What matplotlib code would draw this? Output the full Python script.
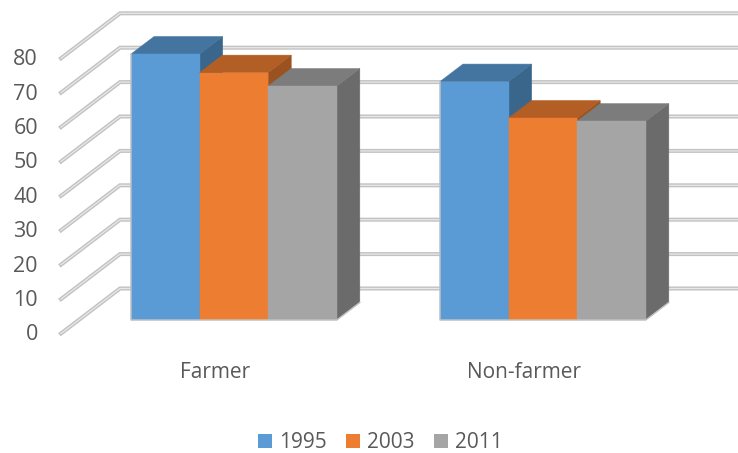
import matplotlib
matplotlib.use("Agg")
import matplotlib.pyplot as plt
from matplotlib.patches import Polygon, Patch

plt.rcParams['font.family'] = ['Open Sans', 'DejaVu Sans']

categories = ["Farmer", "Non-farmer"]
years = ["1995", "2003", "2011"]
values_1995 = [77.3, 69.3]
values_2003 = [71.9, 58.7]
values_2011 = [68.0, 57.8]
ticks = [0, 10, 20, 30, 40, 50, 60, 70, 80]

front_cols = ["#5b9bd5", "#ed7d31", "#a5a5a5"]
top_cols = ["#4475a0", "#b25e24", "#7c7c7c"]
side_cols = ["#3b668c", "#9a5220", "#6b6b6b"]
text_col = "#595959"
edge_col = "#c4c4c4"

# pixel layout of the fake 3d scene
PX_PER_UNIT = 3.44
BACK_ZERO = 288.5
FLOOR_DX, FLOOR_DY = 59, -45
BAR_BASE = 320
BAR_DX, BAR_DY = 23, -17.5
BAR_W = 68.6
GROUP_X = [131, 440]


def val_y(base, v):
    return base - v * PX_PER_UNIT


fig = plt.figure(figsize=(7.38, 4.53), dpi=100)
ax = fig.add_axes([0, 0, 1, 1])
ax.set_xlim(0, 738)
ax.set_ylim(453, 0)
ax.axis('off')

# gridlines: diagonal side wall then back wall
for t in ticks:
    yb = val_y(BACK_ZERO, t)
    xs = [61, 61 + FLOOR_DX, 738]
    ys = [yb - FLOOR_DY, yb, yb]
    ax.plot(xs, ys, color="#c2c2c2", lw=2.9, solid_joinstyle='miter', zorder=1)
    ax.plot(xs, ys, color="#e8e8e8", lw=0.9, solid_joinstyle='miter', zorder=1.1)
    ax.text(38, yb - FLOOR_DY + 1.5, str(t), ha='right', va='center', fontsize=15.5, color=text_col)

series = [values_1995, values_2003, values_2011]
for g, x0 in enumerate(GROUP_X):
    for s, vals in enumerate(series):
        x = x0 + s * BAR_W
        top = val_y(BAR_BASE, vals[g])
        # side, top, front, left to right so later bars cover earlier ones
        ax.add_patch(Polygon([(x + BAR_W, top), (x + BAR_W + BAR_DX, top + BAR_DY),
                              (x + BAR_W + BAR_DX, BAR_BASE + BAR_DY), (x + BAR_W, BAR_BASE)],
                             fc=side_cols[s], ec=side_cols[s], lw=0.4, zorder=3 + s))
        ax.add_patch(Polygon([(x, top), (x + BAR_DX, top + BAR_DY),
                              (x + BAR_W + BAR_DX, top + BAR_DY), (x + BAR_W, top)],
                             fc=top_cols[s], ec=top_cols[s], lw=0.4, zorder=3 + s))
        ax.add_patch(Polygon([(x, BAR_BASE), (x, top), (x + BAR_W, top), (x + BAR_W, BAR_BASE)],
                             fc=front_cols[s], ec=front_cols[s], lw=0.3, zorder=3.5 + s))
    # light outline along the left and bottom of the group
    ax.plot([x0, x0, x0 + 3 * BAR_W, x0 + 3 * BAR_W + BAR_DX],
            [val_y(BAR_BASE, series[0][g]), BAR_BASE, BAR_BASE, BAR_BASE + BAR_DY],
            color=edge_col, lw=1.0, zorder=7)
    ax.text(x0 + 1.5 * BAR_W - 18.5, 372.5, categories[g], ha='center', va='center',
            fontsize=15, color=text_col)

handles = [Patch(fc=c, ec='none', label=y) for c, y in zip(front_cols, years)]
ax.legend(handles=handles, ncol=3, loc='center', bbox_to_anchor=(380.5 / 738, 1 - 443 / 453),
          frameon=False, fontsize=15, labelcolor=text_col, handlelength=0.67, handleheight=0.67,
          handletextpad=0.33, columnspacing=0.95, borderpad=0)

fig.savefig("out.png", dpi=100)
